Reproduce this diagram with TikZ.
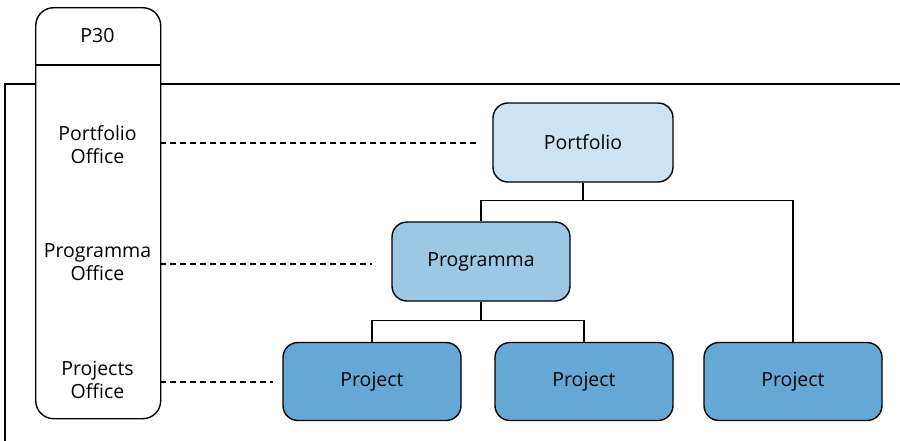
\documentclass[tikz,border=0pt]{standalone}
\usepackage{fontspec}
\setmainfont{Open Sans}
\definecolor{pfcol}{HTML}{CCE3F1}
\definecolor{pgcol}{HTML}{9CC8E5}
\definecolor{prcol}{HTML}{65A8D5}
\begin{document}
\begin{tikzpicture}[x=1pt,y=-1pt,
  line width=1.4pt,
  box/.style={draw=black, rounded corners=15pt, minimum width=178pt, minimum height=78pt, inner sep=0pt, font=\fontsize{19.5}{23}\selectfont},
  lbl/.style={align=center, font=\fontsize{19.5}{23}\selectfont, inner sep=0pt},
  guide/.style={dashed, dash pattern=on 6pt off 4pt, line width=1.2pt},
  conn/.style={line width=1.4pt}]
\useasboundingbox (0,0) rectangle (900,440);
% frame
\draw (35,84) -- (5,84) -- (5,441);
\draw (160,84) -- (901,84);
% column
\node[draw=black, fill=white, rounded corners=18pt, minimum width=125pt, minimum height=411pt, inner sep=0pt, anchor=north west] (col) at (35,7) {};
\coordinate (hl) at (35,65);
\coordinate (hr) at (160,65);
\draw (hl) -- (hr);
\node[lbl] (p30) at (97.5,36) {P30};
\node[lbl] (lpf) at (97.5,145) {Portfolio\\Office};
\node[lbl] (lpg) at (97.5,262) {Programma\\Office};
\node[lbl] (lpr) at (97.5,380) {Projects\\Office};
% boxes
\node[box, fill=pfcol, minimum width=180pt, minimum height=79pt] (pf) at (583,142.5) {Portfolio};
\node[box, fill=pgcol, minimum height=79pt] (pg) at (481,261.5) {Programma};
\node[box, fill=prcol] (p1) at (372,381.5) {Project};
\node[box, fill=prcol] (p2) at (584,381.5) {Project};
\node[box, fill=prcol] (p3) at (793,381.5) {Project};
% dashed guides
\coordinate (d1a) at (160,143); \coordinate (d1b) at (476,143);
\coordinate (d2a) at (160,264); \coordinate (d2b) at (372,264);
\coordinate (d3a) at (160,382); \coordinate (d3b) at (273,382);
\draw[guide] (d1a) -- (d1b);
\draw[guide] (d2a) -- (d2b);
\draw[guide] (d3a) -- (d3b);
% tree
\draw[conn] (pf.south) -- ++(0,18) -| (pg.north);
\draw[conn] (pf.south) -- ++(0,18) -| (p3.north);
\draw[conn] (pg.south) -- ++(0,19) -| (p1.north);
\draw[conn] (pg.south) -- ++(0,19) -| (p2.north);
\end{tikzpicture}
\end{document}
